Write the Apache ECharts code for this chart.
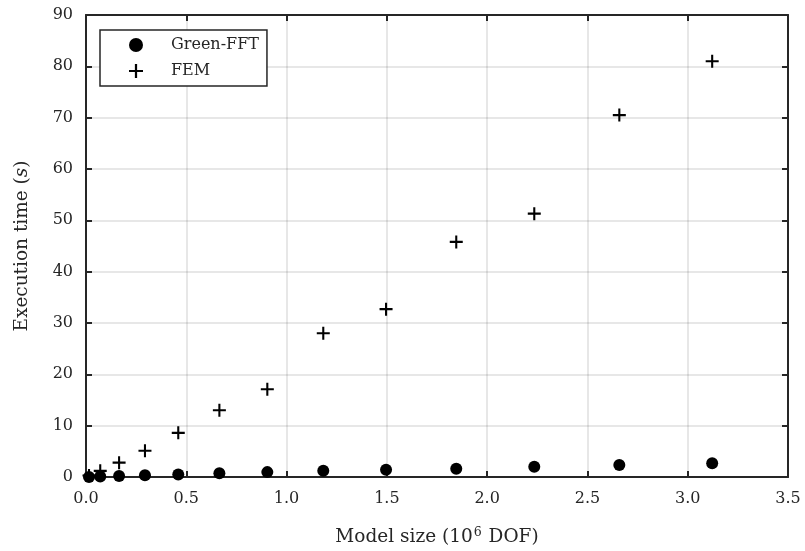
<!DOCTYPE html>
<html>
<head>
<meta charset="utf-8">
<script src="https://cdn.jsdelivr.net/npm/echarts@6/dist/echarts.min.js"></script>
<style>html,body{margin:0;padding:0;background:#fff;}#c{width:805px;height:551px;}</style>
</head>
<body>
<div id="c"></div>
<script>
var modelSize = [0.015, 0.071, 0.165, 0.294, 0.46, 0.665, 0.904, 1.183, 1.496, 1.846, 2.235, 2.659, 3.122];
var greenFFT = [0.02, 0.08, 0.2, 0.35, 0.5, 0.75, 0.95, 1.2, 1.4, 1.6, 2.0, 2.35, 2.7];
var fem = [0.3, 1.2, 2.8, 5.1, 8.6, 13.0, 17.1, 28.0, 32.7, 45.8, 51.3, 70.5, 81.0];
var seriesNames = ['Green-FFT', 'FEM'];
var xAxisTitle = 'Model size (10{sup|6} DOF)';

var FONT = 'DejaVu Serif';
var INK = '#262626';
var plusPath = 'path://M4.2,0H5.8V4.2H10V5.8H5.8V10H4.2V5.8H0V4.2H4.2Z';

function pairs(xs, ys) { return xs.map(function (x, i) { return [x, ys[i]]; }); }

var chart = echarts.init(document.getElementById('c'), null, {renderer: 'canvas'});
var gridLine = {show: true, lineStyle: {color: 'rgba(38,38,38,0.14)', width: 1.5}};
var axLine = {show: true, onZero: false, lineStyle: {color: INK, width: 2}};
var tick = {show: true, inside: true, length: 6, lineStyle: {color: INK, width: 2}};
chart.setOption({
  animation: false,
  backgroundColor: '#fff',
  textStyle: {fontFamily: FONT},
  grid: {left: 86, right: 17, top: 15, bottom: 74, containLabel: false, outerBoundsMode: 'none'},
  legend: {
    orient: 'vertical', left: 100, top: 30,
    padding: [7, 8, 7, 29],
    itemWidth: 60, itemHeight: 14, itemGap: 10,
    borderColor: INK, borderWidth: 1.5, backgroundColor: '#fff',
    textStyle: {fontFamily: FONT, fontSize: 16, color: INK},
    data: [
      {name: seriesNames[0], icon: 'circle'},
      {name: seriesNames[1], icon: plusPath}
    ]
  },
  xAxis: [{
    type: 'value', min: 0, max: 3.5, interval: 0.5, position: 'bottom',
    axisLine: axLine, axisTick: tick, splitLine: gridLine,
    axisLabel: {fontFamily: FONT, fontSize: 16, color: INK, margin: 14,
      formatter: function (v) { return v.toFixed(1); }},
    name: xAxisTitle, nameLocation: 'middle', nameGap: 49,
    nameTextStyle: {fontFamily: FONT, fontSize: 18.5, color: INK, lineHeight: 22,
      rich: {sup: {fontFamily: FONT, fontSize: 12.5, color: INK, verticalAlign: 'top', lineHeight: 22, padding: [0, 1, 9, 1]}}}
  }, {
    type: 'value', min: 0, max: 3.5, interval: 0.5, position: 'top',
    axisLine: axLine, axisTick: tick, splitLine: {show: false}, axisLabel: {show: false}
  }],
  yAxis: [{
    type: 'value', min: 0, max: 90, interval: 10, position: 'left',
    axisLine: axLine, axisTick: tick, splitLine: gridLine,
    axisLabel: {fontFamily: FONT, fontSize: 16, color: INK, margin: 13},
    name: 'Execution time ({i|s})', nameLocation: 'middle', nameGap: 54, nameRotate: 90,
    nameTextStyle: {fontFamily: FONT, fontSize: 18.5, color: INK,
      rich: {i: {fontFamily: FONT, fontSize: 18.5, fontStyle: 'italic', color: INK}}}
  }, {
    type: 'value', min: 0, max: 90, interval: 10, position: 'right',
    axisLine: axLine, axisTick: tick, splitLine: {show: false}, axisLabel: {show: false}
  }],
  series: [{
    name: seriesNames[0], type: 'scatter', symbol: 'circle', symbolSize: 12,
    itemStyle: {color: '#000', opacity: 1}, data: pairs(modelSize, greenFFT), z: 3
  }, {
    name: seriesNames[1], type: 'scatter', symbol: plusPath, symbolSize: 13,
    itemStyle: {color: '#000', opacity: 1}, data: pairs(modelSize, fem), z: 2
  }]
});
</script>
</body>
</html>
